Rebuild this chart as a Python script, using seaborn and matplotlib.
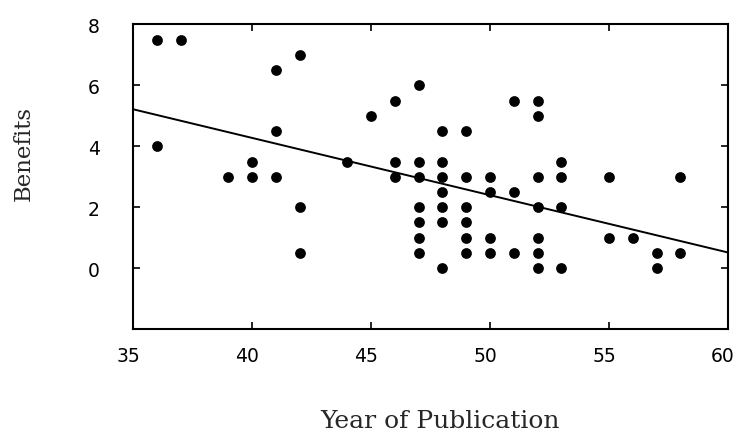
import matplotlib
matplotlib.use("Agg")
import matplotlib.pyplot as plt
import matplotlib.transforms as mtransforms
import pandas as pd
import seaborn as sns

# values
year = [36, 37, 42, 41, 41, 36, 40, 39, 40, 41, 44, 45, 46, 47, 46, 47, 46, 47,
        51, 52, 52, 48, 49, 48, 53,
        48, 49, 50, 52, 53, 55, 58,
        48, 50, 51,
        47, 48, 49, 52, 53, 42,
        47, 48, 49,
        47, 49, 50, 52, 55, 56,
        47, 49, 50, 51, 52, 57, 58, 42,
        48, 52, 53, 57]
benefits = [7.5, 7.5, 7, 6.5, 4.5, 4, 3.5, 3, 3, 3, 3.5, 5, 5.5, 6, 3.5, 3.5, 3, 3,
            5.5, 5.5, 5, 4.5, 4.5, 3.5, 3.5,
            3, 3, 3, 3, 3, 3, 3,
            2.5, 2.5, 2.5,
            2, 2, 2, 2, 2, 2,
            1.5, 1.5, 1.5,
            1, 1, 1, 1, 1, 1,
            0.5, 0.5, 0.5, 0.5, 0.5, 0.5, 0.5, 0.5,
            0, 0, 0, 0]

x_ticks = [35, 40, 45, 50, 55, 60]
y_ticks = [0, 2, 4, 6, 8]

df = pd.DataFrame({"year": year, "benefits": benefits})

sns.set_style("ticks")
plt.rcParams["font.family"] = ["DejaVu Sans"]

fig = plt.figure(figsize=(7.37, 4.35), dpi=100)
ax = fig.add_axes([0.1805, 0.2414, 0.8073, 0.7000])
ax.set_xlim(35, 60)
ax.set_ylim(-2, 8)

# least-squares line drawn by seaborn across the full x range
sns.regplot(data=df, x="year", y="benefits", ax=ax, ci=None, truncate=False,
            scatter_kws={"s": 60, "color": "black", "linewidths": 0, "alpha": 1},
            line_kws={"color": "black", "lw": 1.4})

ax.set_xlim(35, 60)
ax.set_ylim(-2, 8)
ax.set_xticks(x_ticks)
ax.set_yticks(y_ticks)
ax.tick_params(direction="in", length=5, width=1.2, top=True, right=True,
               labelsize=13.5, colors="black")
ax.tick_params(axis="x", pad=12)
ax.tick_params(axis="y", pad=24)
for s in ax.spines.values():
    s.set_visible(True)
    s.set_linewidth(1.5)
    s.set_color("black")

# tick labels in the scan sit a little left of their ticks
shift = mtransforms.ScaledTranslation(-5 / 100, 0, fig.dpi_scale_trans)
for lbl in ax.get_xticklabels():
    lbl.set_transform(lbl.get_transform() + shift)

ax.set_xlabel("Year of Publication", family="DejaVu Serif", fontsize=18)
ax.set_ylabel("Benefits", family="DejaVu Serif", fontsize=16.5)
ax.xaxis.set_label_coords(0.516, -0.262)
ax.yaxis.set_label_coords(-0.165, 0.58)

fig.savefig("out.png", dpi=100)
